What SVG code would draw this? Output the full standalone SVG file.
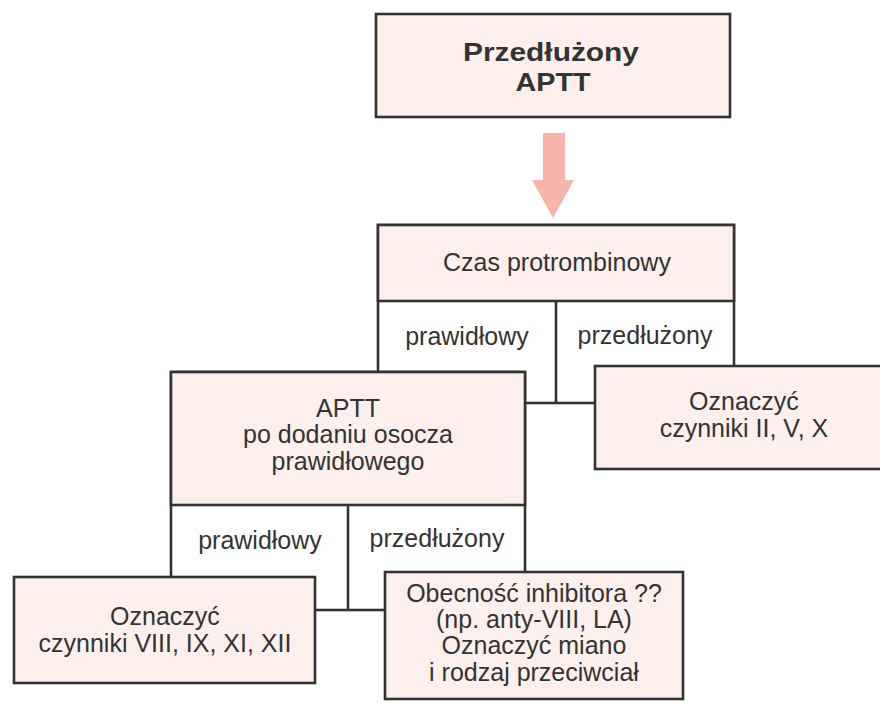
<svg xmlns="http://www.w3.org/2000/svg" width="880" height="703" viewBox="0 0 880 703">
<style>
.box{fill:#fcefec;stroke:#333;stroke-width:2.6}
.cell{fill:#ffffff;stroke:#333;stroke-width:2.6}
.ln{stroke:#333;stroke-width:2.6;fill:none}
text{font-family:"Liberation Sans",Arial,sans-serif;font-size:25px;fill:#333;text-anchor:middle}
.b{font-weight:bold}
</style>
<rect width="880" height="703" fill="#ffffff"/>
<g id="connectors">
<polygon points="543,133 565,133 565,180 574,180 553,218 532,180 543,180" fill="#f6b4aa"/>
</g>
<g id="node-aptt-prolonged">
<rect class="box" x="376" y="14" width="354" height="103"/>
<text class="b" x="551" y="61" textLength="176" lengthAdjust="spacingAndGlyphs">Przedłużony</text>
<text class="b" x="553" y="91" textLength="75" lengthAdjust="spacingAndGlyphs">APTT</text>
</g>
<g id="node-pt">
<rect class="cell" x="378" y="225" width="356" height="178"/>
<rect class="box" x="378" y="225" width="356" height="76"/>
<line class="ln" x1="556" y1="301" x2="556" y2="403"/>
<text x="557" y="271">Czas protrombinowy</text>
<text x="467" y="345">prawidłowy</text>
<text x="645" y="344">przedłużony</text>
</g>
<g id="node-aptt-mix">
<rect class="cell" x="171" y="372" width="354" height="238"/>
<rect class="box" x="171" y="372" width="354" height="133"/>
<line class="ln" x1="348" y1="505" x2="348" y2="610"/>
<text x="348" y="417">APTT</text>
<text x="348" y="443">po dodaniu osocza</text>
<text x="348" y="470">prawidłowego</text>
<text x="260" y="549">prawidłowy</text>
<text x="437" y="547">przedłużony</text>
</g>
<g id="node-factors-2-5-10">
<rect class="box" x="595" y="366" width="300" height="103"/>
<text x="744" y="410">Oznaczyć</text>
<text x="744" y="437">czynniki II, V, X</text>
</g>
<g id="node-factors-8-9-11-12">
<rect class="box" x="14" y="577" width="301" height="106"/>
<text x="165" y="625">Oznaczyć</text>
<text x="165" y="652">czynniki VIII, IX, XI, XII</text>
</g>
<g id="node-inhibitor">
<rect class="box" x="385" y="572" width="298" height="127"/>
<text x="534" y="602">Obecność inhibitora ??</text>
<text x="534" y="628">(np. anty-VIII, LA)</text>
<text x="534" y="654">Oznaczyć miano</text>
<text x="534" y="681">i rodzaj przeciwciał</text>
</g>
</svg>
